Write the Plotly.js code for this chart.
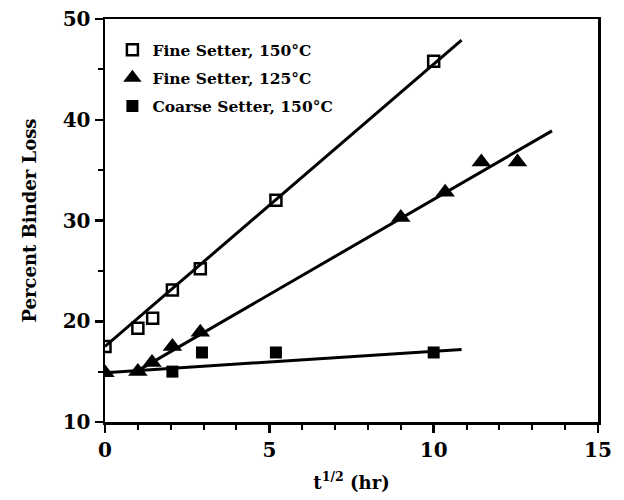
<!DOCTYPE html>
<html>
<head>
<meta charset="utf-8">
<script src="https://cdn.plot.ly/plotly-3.0.1.min.js"></script>
<style>html,body{margin:0;padding:0;background:#fff;}#chart{width:624px;height:500px;}</style>
</head>
<body>
<div id="chart"></div>
<script>
// Data
const seriesNames = ["Fine Setter, 150°C", "Fine Setter, 125°C", "Coarse Setter, 150°C"];

const fine150X = [0, 1.0, 1.45, 2.05, 2.9, 5.2, 10.0];
const fine150Y = [17.5, 19.3, 20.3, 23.1, 25.2, 32.0, 45.8];
const fine150FitX = [0, 10.85];
const fine150FitY = [17.5, 47.9];

const fine125X = [0, 1.0, 1.43, 2.05, 2.9, 9.0, 10.35, 11.45, 12.55];
const fine125Y = [14.9, 15.0, 15.9, 17.5, 18.9, 30.3, 32.8, 35.8, 35.8];
const fine125FitX = [1.0, 13.6];
const fine125FitY = [15.1, 38.9];

const coarseX = [2.05, 2.95, 5.2, 10.0];
const coarseY = [15.0, 16.9, 16.9, 16.9];
const coarseFitX = [0, 10.85];
const coarseFitY = [14.9, 17.2];

const xTicks = [0, 5, 10, 15];
const yTicks = [10, 20, 30, 40, 50];

const FONT = "DejaVu Serif, serif";
const lineStyle = {color: "#000", width: 3};

const traces = [
  {x: fine150FitX, y: fine150FitY, mode: "lines", line: lineStyle, showlegend: false, hoverinfo: "skip"},
  {x: fine125FitX, y: fine125FitY, mode: "lines", line: lineStyle, showlegend: false, hoverinfo: "skip"},
  {x: coarseFitX, y: coarseFitY, mode: "lines", line: lineStyle, showlegend: false, hoverinfo: "skip"},
  {x: fine150X, y: fine150Y, mode: "markers", name: seriesNames[0], legendgroup: "a",
   marker: {symbol: "square-open", size: 11, color: "#000", line: {width: 2.5, color: "#000"}}},
  {x: fine125X, y: fine125Y, mode: "markers", name: seriesNames[1], legendgroup: "b",
   marker: {symbol: "triangle-up", size: 17, color: "#000"}},
  {x: coarseX, y: coarseY, mode: "markers", name: seriesNames[2], legendgroup: "c",
   marker: {symbol: "square", size: 12, color: "#000"}}
];

const axisCommon = {
  showgrid: false, zeroline: false, showline: true, linecolor: "#000", linewidth: 2.5,
  mirror: true, ticks: "outside", ticklen: 8, tickwidth: 2.5, tickcolor: "#000",
  tickfont: {family: FONT, size: 20, color: "#000", weight: "bold"},
  fixedrange: true
};

const layout = {
  width: 624, height: 500,
  margin: {l: 105, r: 26, t: 19, b: 78},
  paper_bgcolor: "#fff", plot_bgcolor: "#fff",
  font: {family: FONT, color: "#000"},
  xaxis: Object.assign({}, axisCommon, {
    range: [0, 15], tickvals: xTicks, ticktext: xTicks.map(String),
    minor: {dtick: 1, ticks: "outside", ticklen: 5, tickwidth: 2, tickcolor: "#000"},
    title: {text: "t<sup>1/2</sup> (hr)", font: {family: FONT, size: 18, color: "#000", weight: "bold"}, standoff: 16}
  }),
  yaxis: Object.assign({}, axisCommon, {
    range: [10, 50], tickvals: yTicks, ticktext: yTicks.map(String),
    minor: {dtick: 5, ticks: "outside", ticklen: 5, tickwidth: 2, tickcolor: "#000"},
    title: {text: "Percent Binder Loss", font: {family: FONT, size: 18, color: "#000", weight: "bold"}, standoff: 22}
  }),
  showlegend: true,
  legend: {
    x: 0.015, y: 0.965, xanchor: "left", yanchor: "top",
    bgcolor: "rgba(0,0,0,0)", borderwidth: 0,
    font: {family: FONT, size: 15.5, color: "#000", weight: "bold"},
    tracegroupgap: 5, itemwidth: 30, traceorder: "grouped"
  }
};

Plotly.newPlot("chart", traces, layout, {displayModeBar: false, staticPlot: true});
</script>
</body>
</html>
